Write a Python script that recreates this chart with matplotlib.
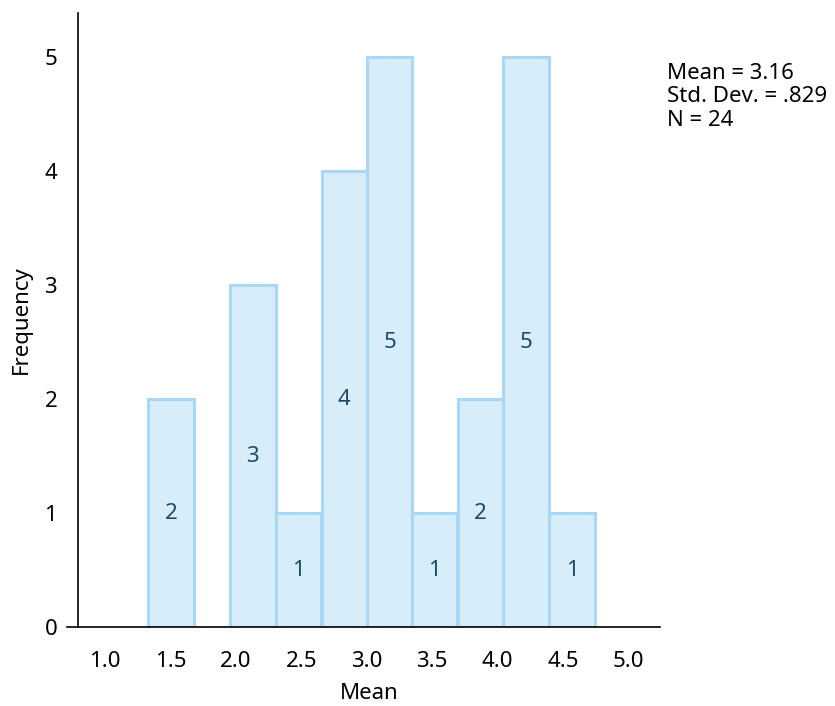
import matplotlib
matplotlib.use("Agg")
import matplotlib.pyplot as plt

# Data
bin_centers = [1.505, 2.13, 2.48, 2.83, 3.175, 3.52, 3.87, 4.22, 4.57]
counts = [2, 3, 1, 4, 5, 1, 2, 5, 1]
bin_width = 0.349
xtick_vals = [1.0, 1.5, 2.0, 2.5, 3.0, 3.5, 4.0, 4.5, 5.0]
xtick_labels = ["1.0", "1.5", "2.0", "2.5", "3.0", "3.5", "4.0", "4.5", "5.0"]
ytick_vals = [0, 1, 2, 3, 4, 5]
stats_lines = ["Mean = 3.16", "Std. Dev. = .829", "N = 24"]

plt.rcParams['font.family'] = ['Noto Sans', 'DejaVu Sans']

W, H = 835, 706
fig = plt.figure(figsize=(W / 100, H / 100), dpi=100)
ax = fig.add_axes([78 / W, 1 - 627 / H, (660 - 78) / W, (627 - 13) / H])

fill = '#d8edfa'
edge = '#a8d8f5'
txtc = '#1b4a6b'
fs = 16

ax.bar(bin_centers, counts, width=bin_width, color=fill, edgecolor=edge,
       linewidth=2.2, zorder=2)
for c, n in zip(bin_centers, counts):
    ax.text(c, n / 2, str(n), ha='center', va='center', fontsize=fs,
            color=txtc, zorder=3)

ax.set_xlim(0.794, 5.243)
ax.set_ylim(0, 5.386)
ax.set_xticks(xtick_vals)
ax.set_xticklabels(xtick_labels)
ax.set_yticks(ytick_vals)
ax.tick_params(axis='both', length=0, labelsize=fs)
ax.tick_params(axis='x', pad=17)
ax.tick_params(axis='y', pad=15)

for s in ['top', 'right']:
    ax.spines[s].set_visible(False)
ax.spines['left'].set_linewidth(1.2)
ax.spines['bottom'].set_linewidth(1.2)
ax.plot([-11 / 582, 0], [0, 0], transform=ax.transAxes, clip_on=False,
        color='black', lw=1.2)

ax.set_xlabel("Mean", fontsize=fs, labelpad=8)
ax.set_ylabel("Frequency", fontsize=fs, labelpad=9)

fig.text(667 / W, 1 - 63 / H, "\n".join(stats_lines), ha='left', va='top',
         fontsize=fs, linespacing=1.15)

fig.savefig("out.png", dpi=100)
